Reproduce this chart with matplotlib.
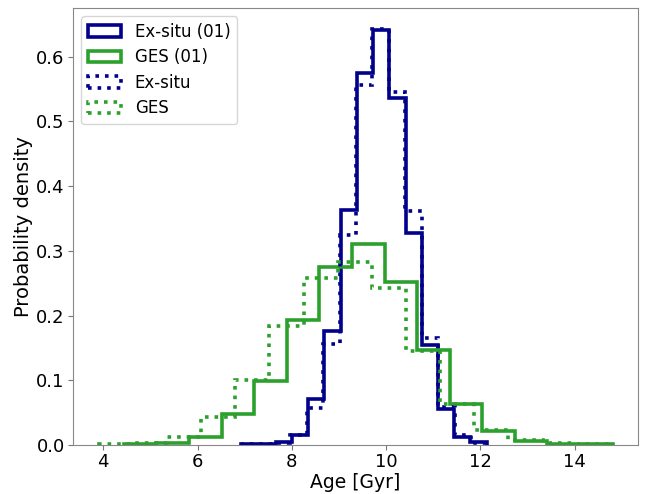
import numpy as np
import matplotlib
matplotlib.use("Agg")
import matplotlib.pyplot as plt

# bin ranges (Gyr) and number of bins
exsitu01_range = (6.97, 12.13)
ges01_range = (4.44, 14.80)
exsitu_range = (6.92, 12.15)
ges_range = (3.905, 14.765)
n_bins = 15

# probability density per bin
exsitu01_dens = [0.001, 0.002, 0.005, 0.015, 0.071, 0.176, 0.363, 0.575,
                 0.641, 0.536, 0.328, 0.154, 0.055, 0.013, 0.005]
ges01_dens = [0.002, 0.004, 0.012, 0.048, 0.099, 0.193, 0.275, 0.311,
              0.252, 0.147, 0.064, 0.022, 0.006, 0.002, 0.001]
exsitu_dens = [0.001, 0.002, 0.004, 0.016, 0.058, 0.156, 0.325, 0.556,
               0.643, 0.546, 0.361, 0.166, 0.059, 0.015, 0.004]
ges_dens = [0.001, 0.004, 0.013, 0.044, 0.100, 0.184, 0.258, 0.283,
            0.243, 0.146, 0.064, 0.023, 0.008, 0.003, 0.001]

series = [
    ("Ex-situ (01)", exsitu01_range, exsitu01_dens, "darkblue", "-"),
    ("GES (01)", ges01_range, ges01_dens, "tab:green", "-"),
    ("Ex-situ", exsitu_range, exsitu_dens, "darkblue", ":"),
    ("GES", ges_range, ges_dens, "tab:green", ":"),
]

fig, ax = plt.subplots(figsize=(6.46, 4.94), dpi=100)
fig.subplots_adjust(left=0.113, right=0.988, top=0.984, bottom=0.099)

for label, (lo, hi), dens, color, ls in series:
    edges = np.linspace(lo, hi, n_bins + 1)
    ax.hist(edges[:-1], bins=edges, weights=dens, histtype="step",
            color=color, linestyle=ls, linewidth=2.6, label=label)

ax.set_xlabel("Age [Gyr]", fontsize=13.5, labelpad=1)
ax.set_ylabel("Probability density", fontsize=14, labelpad=2)
ax.tick_params(labelsize=13, color="#777777", pad=2.5)
for sp in ax.spines.values():
    sp.set_edgecolor("#888888")

ax.legend(loc="upper left", fontsize=12, labelspacing=0.45)

plt.savefig("out.png", dpi=100)
